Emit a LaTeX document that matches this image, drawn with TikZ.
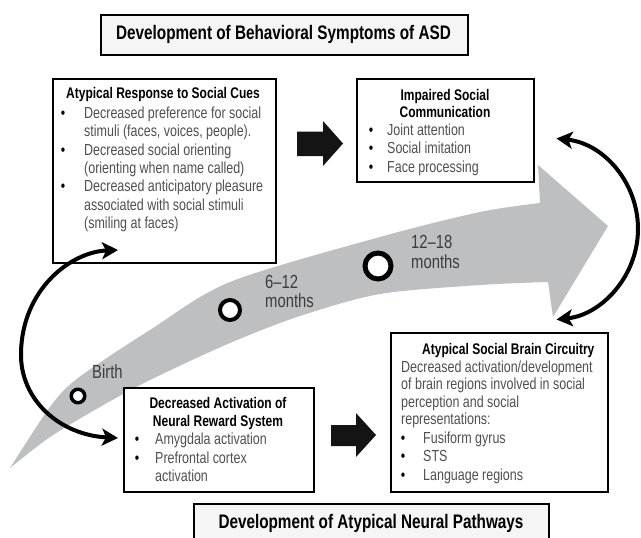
\documentclass[tikz,border=0pt]{standalone}
\usepackage{fontspec}
\setmainfont{Liberation Sans}[FakeStretch=0.78]
\usetikzlibrary{arrows.meta}
\definecolor{timeline}{RGB}{190,191,193}
\definecolor{bodytext}{RGB}{80,80,80}
\definecolor{labeltext}{RGB}{60,60,60}
\begin{document}
\begin{tikzpicture}[x=1pt,y=-1pt,
  box/.style={draw=black, line width=2.4pt, fill=white, inner sep=0pt, rectangle},
  titlebox/.style={box, fill=black!4},
  hd/.style={inner sep=0pt, font=\fontsize{15.4}{18}\selectfont\bfseries, text=black},
  txt/.style={inner sep=0pt, font=\fontsize{16}{18}\selectfont, text=bodytext, anchor=base west},
  bul/.style={inner sep=0pt, font=\fontsize{16}{18}\selectfont, text=black, anchor=base},
  lbl/.style={inner sep=0pt, font=\fontsize{19}{20}\selectfont, text=labeltext, anchor=base west},
  bigt/.style={inner sep=0pt, font=\fontsize{19.6}{22}\selectfont\bfseries, text=black, anchor=base},
  ring/.style={circle, draw=black, fill=white, inner sep=0pt},
  curv/.style={line width=4pt, {Stealth[length=16pt,width=17pt,inset=4pt]}-{Stealth[length=16pt,width=17pt,inset=4pt]}},
  blockarrow/.style={fill=black!92}
]
\useasboundingbox (0,0) rectangle (641,538);
\fill[white] (0,0) rectangle (641,538);

% timeline arrow
\fill[timeline] plot[smooth] coordinates {(10,468) (50,407) (78,378) (150,330) (230,282) (380,237) (480,212) (540,203)}
  -- (538,165) -- (608,226) -- (553,317) -- (548,282)
  -- plot[smooth] coordinates {(548,282) (480,285) (380,294) (300,316) (230,343) (150,380) (100,407) (50,437) (10,468)} -- cycle;

% time markers
\node[ring, line width=3.5pt, minimum size=13.5pt] (birth) at (78,396) {};
\node[ring, line width=4pt, minimum size=20pt] (m612) at (230,310) {};
\node[ring, line width=5pt, minimum size=26pt] (m1218) at (378,266) {};
\node[lbl] (lbirth) at (92,378) {Birth};
\node[lbl] (l612a) at (265,288) {6–12};
\node[lbl] (l612b) at (265,307) {months};
\node[lbl] (l1218a) at (411,248) {12–18};
\node[lbl] (l1218b) at (411,268) {months};

% title boxes
\node[titlebox, minimum width=367pt, minimum height=40pt, anchor=north west] (ttop) at (100,14) {};
\node[bigt] (ttopt) at (283.5,39.5) {Development of Behavioral Symptoms of ASD};
\node[titlebox, minimum width=355pt, minimum height=60pt, anchor=north west] (tbot) at (193,503) {};
\node[bigt] (tbott) at (371,528.5) {Development of Atypical Neural Pathways};

% box: atypical response to social cues
\node[box, minimum width=223pt, minimum height=184pt, anchor=north west] (cues) at (52,78) {};
\node[hd, anchor=base] (cuesh) at (163,98) {Atypical Response to Social Cues};
\node[bul] (cb1) at (63,118) {•};
\node[txt] (ct1) at (84,118) {Decreased preference for social};
\node[txt] (ct2) at (84,136.5) {stimuli (faces, voices, people).};
\node[bul] (cb2) at (63,155) {•};
\node[txt] (ct3) at (84,155) {Decreased social orienting};
\node[txt] (ct4) at (84,173) {(orienting when name called)};
\node[bul] (cb3) at (63,191.5) {•};
\node[txt] (ct5) at (84,191.5) {Decreased anticipatory pleasure};
\node[txt] (ct6) at (84,210) {associated with social stimuli};
\node[txt] (ct7) at (84,228) {(smiling at faces)};

% box: impaired social communication
\node[box, minimum width=177pt, minimum height=103pt, anchor=north west] (comm) at (356,78) {};
\node[hd, anchor=base] (commh1) at (445,100) {Impaired Social};
\node[hd, anchor=base] (commh2) at (445,117) {Communication};
\node[bul] (mb1) at (371,135) {•};
\node[txt] (mt1) at (387,135) {Joint attention};
\node[bul] (mb2) at (371,153.5) {•};
\node[txt] (mt2) at (387,153.5) {Social imitation};
\node[bul] (mb3) at (371,172) {•};
\node[txt] (mt3) at (387,172) {Face processing};

% box: decreased activation of neural reward system
\node[box, minimum width=190pt, minimum height=104pt, anchor=north west] (reward) at (123,387) {};
\node[hd, anchor=base] (rewh1) at (218,408) {Decreased Activation of};
\node[hd, anchor=base] (rewh2) at (218,426) {Neural Reward System};
\node[bul] (rb1) at (137,444) {•};
\node[txt] (rt1) at (155,444) {Amygdala activation};
\node[bul] (rb2) at (137,463) {•};
\node[txt] (rt2) at (155,463) {Prefrontal cortex};
\node[txt] (rt3) at (155,481) {activation};

% box: atypical social brain circuitry
\node[box, minimum width=217pt, minimum height=159pt, anchor=north west] (brain) at (390,332) {};
\node[hd, anchor=base west] (brainh) at (422,354) {Atypical Social Brain Circuitry};
\node[txt] (bt1) at (401,372) {Decreased activation/development};
\node[txt] (bt2) at (401,389.5) {of brain regions involved in social};
\node[txt] (bt3) at (401,407) {perception and social};
\node[txt] (bt4) at (401,424.5) {representations:};
\node[bul] (bb1) at (403,443) {•};
\node[txt] (bt5) at (423,443) {Fusiform gyrus};
\node[bul] (bb2) at (403,461.5) {•};
\node[txt] (bt6) at (423,461.5) {STS};
\node[bul] (bb3) at (403,480) {•};
\node[txt] (bt7) at (423,480) {Language regions};

% block arrows
\fill[blockarrow] (297,131.5) -- (323,131.5) -- (323,121) -- (343,143.5) -- (323,166) -- (323,156) -- (297,156) -- cycle;
\fill[blockarrow] (331,425) -- (356,425) -- (356,413) -- (376,435) -- (356,457) -- (356,446) -- (331,446) -- cycle;

% curved double arrows
\coordinate (lu) at (118,250);
\coordinate (ll) at (118,438);
\draw[curv] (lu) .. controls (70,252) and (22,290) .. (21,353) .. controls (20,400) and (60,435) .. (ll);
\coordinate (ru) at (556.5,138.5);
\draw[curv] (ru) arc[start angle=-84, end angle=84, radius=91];
\end{tikzpicture}
\end{document}
